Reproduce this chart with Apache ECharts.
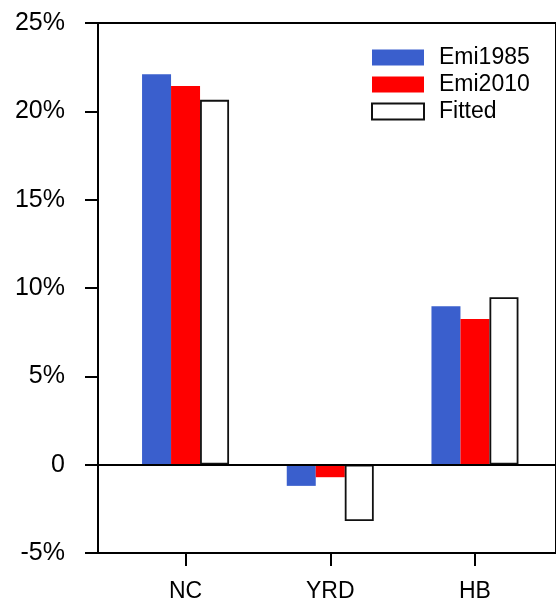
<!DOCTYPE html>
<html>
<head>
<meta charset="utf-8">
<script src="https://cdn.jsdelivr.net/npm/echarts@6/dist/echarts.min.js"></script>
<style>html,body{margin:0;padding:0;background:#fff}#c{width:556px;height:603px}</style>
</head>
<body>
<div id="c"></div>
<script>
var categories = ['NC', 'YRD', 'HB'];
var catPos = [1, 2, 3];
var emi1985 = [22.1, -1.2, 8.97];
var emi2010 = [21.44, -0.71, 8.24];
var fitted = [20.65, -3.19, 9.48];
var yTicks = [-5, 0, 5, 10, 15, 20, 25];

function pts(arr) { return arr.map(function (v, i) { return [catPos[i], v]; }); }

var FONT = 'Liberation Sans';
var chart = echarts.init(document.getElementById('c'), null, { renderer: 'canvas' });
chart.setOption({
  backgroundColor: '#fff',
  animation: false,
  textStyle: { fontFamily: FONT, color: '#000' },
  grid: { left: 98, top: 23, width: 459, height: 531, show: true, borderColor: '#000', borderWidth: 2, backgroundColor: 'transparent' },
  legend: {
    orient: 'vertical', left: 371, top: 46, padding: 0, itemWidth: 52, itemHeight: 16, itemGap: 4,
    icon: 'rect',
    textStyle: { fontFamily: FONT, fontSize: 23, color: '#000', padding: [0, 0, 0, 10] },
    data: ['Emi1985', 'Emi2010', 'Fitted']
  },
  xAxis: {
    type: 'value', min: 0.395, max: 3.56, position: 'bottom',
    axisLine: { show: true, onZero: false, lineStyle: { color: '#000', width: 2 } },
    axisTick: { show: true, customValues: catPos, length: 13, lineStyle: { color: '#000', width: 2 } },
    axisLabel: { customValues: catPos, margin: 27, fontSize: 23, color: '#000', fontFamily: FONT,
      formatter: function (v) { var i = catPos.indexOf(Math.round(v)); return i >= 0 ? categories[i] : ''; } },
    splitLine: { show: false }
  },
  yAxis: {
    type: 'value', min: yTicks[0], max: yTicks[yTicks.length - 1], interval: 5,
    axisLine: { show: true, lineStyle: { color: '#000', width: 2 } },
    axisTick: { show: true, length: 13, lineStyle: { color: '#000', width: 2 } },
    axisLabel: { margin: 33, fontSize: 25, color: '#000', fontFamily: FONT,
      formatter: function (v) { return v === 0 ? '0' : v + '%'; } },
    splitLine: { show: false }
  },
  series: [
    { name: 'Emi1985', type: 'bar', barWidth: 29, barGap: '0%', data: pts(emi1985),
      itemStyle: { color: '#3a5fcd' },
      markLine: { silent: true, symbol: 'none', label: { show: false },
        lineStyle: { color: '#000', width: 2, type: 'solid' }, data: [{ yAxis: 0 }] } },
    { name: 'Emi2010', type: 'bar', barWidth: 29, barGap: '0%', data: pts(emi2010),
      itemStyle: { color: '#ff0000' } },
    { name: 'Fitted', type: 'bar', barWidth: 29, barGap: '0%', data: pts(fitted),
      itemStyle: { color: '#ffffff', borderColor: '#111', borderWidth: 1.8 } }
  ]
});
</script>
</body>
</html>
